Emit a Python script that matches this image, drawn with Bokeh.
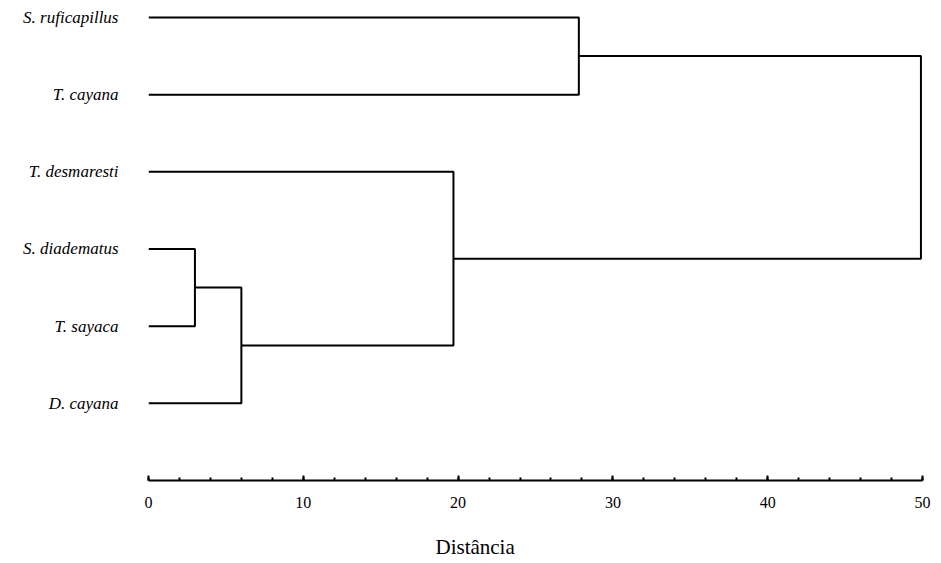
from bokeh.plotting import figure
from bokeh.models import Range1d, FixedTicker, SingleIntervalTicker, LinearAxis
from bokeh.embed import file_html
from bokeh.resources import INLINE

# Leaves (top to bottom)
leaves = ["S. ruficapillus", "T. cayana", "T. desmaresti", "S. diadematus", "T. sayaca", "D. cayana"]
# Merges: (child_a, child_b, distance); new nodes numbered from len(leaves)
merge_a = [3, 6, 2, 0, 9]
merge_b = [4, 5, 7, 1, 8]
merge_h = [3.0, 6.0, 19.7, 27.8, 49.9]
axis_label = "Distância"
axis_label_pos = 21.1

n = len(leaves)
node_x = {i: 0.0 for i in range(n)}
node_y = {i: float(i) for i in range(n)}
xs, ys = [], []
for k, (a, b, h) in enumerate(zip(merge_a, merge_b, merge_h)):
    node = n + k
    xs.append([node_x[a], h, h, node_x[b]])
    ys.append([node_y[a], node_y[a], node_y[b], node_y[b]])
    node_x[node] = h
    node_y[node] = (node_y[a] + node_y[b]) / 2.0

p = figure(width=941, height=563, output_backend="svg", toolbar_location=None,
           x_range=Range1d(0, 50), y_range=Range1d(6.0, -0.22),
           min_border_left=148, min_border_right=19, min_border_top=0, min_border_bottom=83)
p.outline_line_color = None
p.xgrid.visible = False
p.ygrid.visible = False
p.background_fill_color = "white"
p.border_fill_color = "white"

p.multi_line(xs, ys, line_color="black", line_width=2)

# x axis
xa = p.xaxis[0]
xa.ticker = SingleIntervalTicker(interval=10, num_minor_ticks=5)
xa.axis_line_width = 2
xa.axis_line_color = "black"
xa.major_tick_in = 5
xa.major_tick_out = 0
xa.minor_tick_in = 3
xa.minor_tick_out = 0
xa.major_tick_line_width = 2
xa.minor_tick_line_width = 2
xa.major_label_text_font = "Liberation Serif"
xa.major_label_text_font_size = "16px"
xa.major_label_text_color = "black"
xa.major_label_standoff = 16

# axis title as a label-only axis
xl = LinearAxis(ticker=FixedTicker(ticks=[axis_label_pos]),
                major_label_overrides={axis_label_pos: axis_label})
xl.axis_line_color = None
xl.major_tick_line_color = None
xl.minor_tick_line_color = None
xl.major_tick_in = 0
xl.major_tick_out = 0
xl.major_label_text_font = "Liberation Serif"
xl.major_label_text_font_size = "21px"
xl.major_label_text_color = "black"
xl.major_label_standoff = 24
p.add_layout(xl, "below")

# y axis with leaf names
ya = p.yaxis[0]
ya.ticker = FixedTicker(ticks=list(range(n)))
ya.major_label_overrides = {i: name for i, name in enumerate(leaves)}
ya.axis_line_color = None
ya.major_tick_line_color = None
ya.minor_tick_line_color = None
ya.major_label_text_font = "Liberation Serif"
ya.major_label_text_font_style = "italic"
ya.major_label_text_font_size = "17px"
ya.major_label_text_color = "black"
ya.major_label_standoff = 24

open("out.html", "w").write(file_html(p, INLINE))
